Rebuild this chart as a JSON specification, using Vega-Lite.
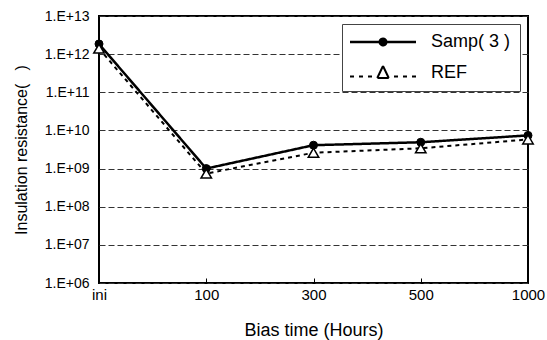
{
  "$schema": "https://vega.github.io/schema/vega-lite/v6.json",
  "width": 429,
  "height": 267,
  "autosize": {"type": "none"},
  "padding": {"left": 99, "top": 16, "right": 19, "bottom": 57},
  "background": "white",
  "config": {
    "font": "Liberation Sans",
    "view": {"stroke": "black", "strokeWidth": 2},
    "axis": {"labelColor": "black", "titleColor": "black", "titleFontWeight": "normal", "domain": false}
  },
  "data": {
    "values": [
      {"time": "ini", "series": "Samp( 3 )", "value": 1.85e12},
      {"time": "100", "series": "Samp( 3 )", "value": 1.0e9},
      {"time": "300", "series": "Samp( 3 )", "value": 4.1e9},
      {"time": "500", "series": "Samp( 3 )", "value": 4.9e9},
      {"time": "1000", "series": "Samp( 3 )", "value": 7.4e9},
      {"time": "ini", "series": "REF", "value": 1.4e12},
      {"time": "100", "series": "REF", "value": 7.4e8},
      {"time": "300", "series": "REF", "value": 2.6e9},
      {"time": "500", "series": "REF", "value": 3.4e9},
      {"time": "1000", "series": "REF", "value": 5.8e9}
    ]
  },
  "encoding": {
    "x": {
      "field": "time",
      "type": "ordinal",
      "sort": ["ini", "100", "300", "500", "1000"],
      "scale": {"type": "point", "padding": 0},
      "axis": {
        "title": "Bias time (Hours)",
        "titleFontSize": 18,
        "titlePadding": 19,
        "labelFontSize": 15,
        "labelAngle": 0,
        "labelPadding": 9,
        "ticks": true,
        "tickSize": -5,
        "tickColor": "black",
        "tickWidth": 1,
        "grid": false
      }
    },
    "y": {
      "field": "value",
      "type": "quantitative",
      "scale": {"type": "log", "domain": [1e6, 1e13], "nice": false},
      "axis": {
        "title": "Insulation resistance(\u00a0\u00a0\u00a0)",
        "titleFontSize": 16,
        "titlePadding": 15,
        "labelFontSize": 14,
        "labelPadding": 10,
        "ticks": false,
        "values": [1e6, 1e7, 1e8, 1e9, 1e10, 1e11, 1e12, 1e13],
        "labelExpr": "'1.E+' + (round(log(datum.value)/LN10) < 10 ? '0' : '') + round(log(datum.value)/LN10)",
        "grid": true,
        "gridColor": "#333333",
        "gridDash": [6, 3],
        "gridWidth": 1
      }
    }
  },
  "layer": [
    {
      "mark": {"type": "point", "filled": false, "color": "black", "strokeWidth": 2, "size": 100, "opacity": 0},
      "encoding": {
        "shape": {
          "field": "series",
          "type": "nominal",
          "scale": {
            "domain": ["Samp( 3 )", "REF"],
            "range": [
              "M-6.6,0L6.6,0M0.65,0A0.65,0.65,0,1,1,-0.65,0A0.65,0.65,0,1,1,0.65,0ZM0.3,0A0.3,0.3,0,1,1,-0.3,0A0.3,0.3,0,1,1,0.3,0ZM0.08,0A0.08,0.08,0,1,1,-0.08,0A0.08,0.08,0,1,1,0.08,0Z",
              "M-6.6,0.7L-5.8,0.7M-4.8,0.7L-4,0.7M-3,0.7L-2.2,0.7M2.2,0.7L3,0.7M4,0.7L4.8,0.7M5.8,0.7L6.6,0.7M0,-1.4L0.2875,-0.8M0.2875,-0.8L0.575,-0.2M0.575,-0.2L0.8625,0.4M0.8625,0.4L1.15,1M0,-1.4L-0.2875,-0.8M-0.2875,-0.8L-0.575,-0.2M-0.575,-0.2L-0.8625,0.4M-0.8625,0.4L-1.15,1M-1.15,1L-0.3833,1M-0.3833,1L0.3833,1M0.3833,1L1.15,1"
            ]
          },
          "legend": {
            "title": null,
            "orient": "top-right",
            "offset": 8,
            "padding": 9,
            "fillColor": "white",
            "strokeColor": "#444444",
            "labelFontSize": 18,
            "labelColor": "black",
            "symbolSize": 100,
            "symbolOpacity": 1,
            "symbolStrokeColor": "black",
            "symbolStrokeWidth": 2,
            "symbolOffset": 23,
            "labelOffset": 39,
            "rowPadding": 11
          }
        }
      }
    },
    {
      "mark": {"type": "line", "color": "black"},
      "encoding": {
        "strokeDash": {
          "field": "series",
          "type": "nominal",
          "scale": {"domain": ["Samp( 3 )", "REF"], "range": [[1, 0], [4, 4]]},
          "legend": null
        },
        "strokeWidth": {
          "field": "series",
          "type": "nominal",
          "scale": {"domain": ["Samp( 3 )", "REF"], "range": [2.5, 2]},
          "legend": null
        }
      }
    },
    {
      "transform": [{"filter": "datum.series === 'Samp( 3 )'"}],
      "mark": {"type": "point", "shape": "circle", "filled": true, "fill": "black", "stroke": "black", "strokeWidth": 1, "size": 64, "opacity": 1}
    },
    {
      "transform": [{"filter": "datum.series === 'REF'"}],
      "mark": {"type": "point", "shape": "triangle-up", "filled": true, "fill": "white", "stroke": "black", "strokeWidth": 1.5, "size": 110, "opacity": 1}
    }
  ]
}
